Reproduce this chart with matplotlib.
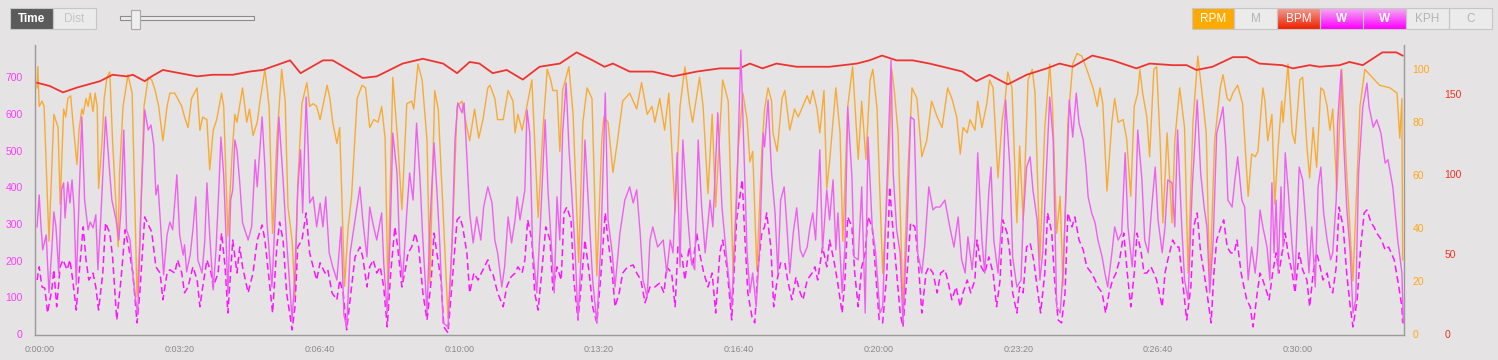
import numpy as np
import matplotlib
matplotlib.use("Agg")
import matplotlib.pyplot as plt
from matplotlib.patches import Rectangle
from matplotlib.ticker import FuncFormatter

plt.rcParams['font.family'] = ['Liberation Sans', 'DejaVu Sans']

# --- data (time in seconds) ---
rpm_t = [-4, -3, -1, 3, 6, 13, 20, 26, 29, 34, 37, 40, 44, 47, 53, 56, 60, 62, 66, 69, 72, 76, 79, 82, 84, 89, 92, 96, 100,
         104, 112, 114, 119, 122, 126, 132, 136, 139, 143, 149, 155, 160, 165, 170, 176, 182, 186, 193, 197, 203, 207, 212,
         217, 225, 229, 233, 239, 243, 248, 253, 260, 263, 269, 275, 279, 282, 290, 296, 300, 305, 311, 315, 322, 328, 333,
         339, 346, 351, 355, 361, 365, 369, 375, 382, 386, 391, 396, 401, 411, 415, 419, 425, 429, 436, 441, 446, 454, 461,
         466, 472, 478, 484, 489, 494, 498, 505, 512, 518, 525, 532, 535, 541, 547, 554, 558, 565, 570, 577, 584, 590, 597,
         604, 611, 615, 622, 628, 634, 641, 644, 651, 655, 663, 670, 677, 680, 684, 690, 694, 704, 708, 713, 720, 726, 731,
         734, 740, 744, 748, 757, 763, 771, 777, 783, 790, 797, 804, 807, 813, 820, 826, 834, 844, 849, 854, 861, 869, 876,
         880, 887, 894, 900, 909, 916, 923, 930, 934, 944, 949, 956, 962, 967, 977, 985, 992, 999, 1006, 1012, 1016, 1020,
         1026, 1033, 1037, 1042, 1047, 1049, 1055, 1062, 1066, 1073, 1080, 1085, 1090, 1098, 1102, 1106, 1112, 1116, 1122,
         1126, 1130, 1139, 1145, 1149, 1156, 1163, 1171, 1176, 1182, 1188, 1192, 1198, 1202, 1206, 1212, 1215, 1219, 1223,
         1228, 1235, 1242, 1248, 1255, 1262, 1269, 1276, 1284, 1291, 1299, 1305, 1312, 1317, 1321, 1327, 1331, 1338, 1342,
         1348, 1355, 1359, 1364, 1371, 1377, 1381, 1385, 1391, 1398, 1402, 1407, 1414, 1420, 1424, 1431, 1438, 1445, 1449,
         1455, 1460, 1464, 1471, 1478, 1484, 1491, 1498, 1507, 1513, 1517, 1521, 1527, 1534, 1538, 1543, 1550, 1555, 1561,
         1566, 1571, 1574, 1578, 1584, 1588, 1594, 1598, 1603, 1607, 1613, 1620, 1624, 1631, 1638, 1643, 1650, 1657, 1663,
         1669, 1674, 1681, 1689, 1693, 1699, 1703, 1707, 1714, 1721, 1729, 1734, 1739, 1743, 1750, 1753, 1757, 1763, 1767,
         1772, 1777, 1779, 1786, 1792, 1796, 1803, 1807, 1813, 1817, 1822, 1827, 1833, 1837, 1842, 1846, 1850, 1856, 1863,
         1870, 1879, 1889, 1896, 1903, 1917, 1932, 1942, 1946, 1949, 1950]
rpm_v = [93, 101, 86, 88, 86, 35, 83, 78, 49, 85, 82, 89, 90, 81, 64, 77, 85, 83, 89, 86, 91, 84, 91, 86, 55, 73, 89, 97, 99,
         73, 33, 61, 86, 91, 98, 91, 48, 14, 35, 86, 97, 96, 92, 86, 73, 86, 91, 91, 89, 86, 82, 78,
         89, 93, 77, 82, 81, 62, 77, 81, 91, 86, 37, 68, 83, 80, 93, 80, 85, 75, 80, 88, 100, 86, 38,
         73, 100, 88, 48, 35, 14, 57, 87, 95, 86, 87, 86, 81, 94, 89, 80, 72, 78, 18, 40, 52, 89, 94,
         93, 78, 81, 80, 86, 74, 17, 97, 73, 47, 87, 88, 85, 102, 96, 73, 19, 92, 85, 46, 6, 35, 86,
         88, 78, 73, 85, 74, 81, 93, 94, 89, 81, 81, 92, 88, 76, 83, 77, 82, 96, 73, 44, 78, 100, 96,
         92, 92, 69, 92, 101, 83, 27, 80, 93, 89, 22, 73, 82, 80, 61, 72, 88, 91, 88, 85, 95, 83, 86,
         80, 89, 77, 91, 46, 86, 101, 86, 80, 97, 86, 53, 83, 48, 96, 88, 23, 69, 91, 81, 65, 69,
         24, 69, 85, 93, 88, 76, 69, 89, 92, 77, 85, 82, 85, 90, 87, 92, 85, 76, 92,
         55, 65, 93, 76, 35, 86, 101, 66, 88, 66, 96, 100, 85, 53, 23, 51, 66, 100, 91,
         76, 10, 61, 93, 89, 67, 73, 88, 82, 78, 93, 89, 82, 68, 78, 76, 81, 77, 88,
         78, 87, 96, 93, 59, 81, 88, 99, 93, 42, 71, 43, 96, 100, 91, 28, 78, 102, 86,
         38, 52, 18, 80, 102, 106, 105, 100, 93, 86, 93, 87, 54, 80, 89, 80, 81, 74, 52,
         86, 91, 100, 91, 82, 67, 100, 101, 73, 42, 76, 42, 73, 93, 78, 23, 80, 105, 91,
         76, 18, 73, 93, 98, 89, 88, 91, 94, 87, 52, 68, 67, 69, 93, 88, 73, 83, 49,
         71, 88, 80, 102, 76, 72, 96, 97, 71, 59, 78, 63, 93, 92, 86, 77, 85, 54, 100,
         61, 20, 86, 100, 98, 94, 93, 91, 74, 89, 28]

bpm_t = [-4, 14, 33, 53, 86, 104, 124, 133, 150, 160, 176, 200, 225, 247, 276, 300, 319, 358, 373, 405, 419, 462, 482, 496,
         519, 548, 577, 597, 615, 629, 648, 668, 691, 715, 744, 768, 791, 808, 820, 844, 877, 906, 940, 973, 1001, 1016,
         1034, 1054, 1083, 1130, 1169, 1187, 1205, 1226, 1249, 1273, 1292, 1320, 1340, 1359, 1385, 1412, 1441, 1459, 1478,
         1506, 1535, 1569, 1588, 1621, 1641, 1655, 1678, 1707, 1727, 1745, 1778, 1793, 1817, 1831, 1860, 1874, 1893, 1921,
         1941, 1950]
bpm_v = [157, 155, 151, 154, 158, 162, 161, 162, 158, 161, 165, 163, 161, 162, 162, 164, 165, 171, 163, 171, 171, 160, 161, 164,
         169, 172, 169, 163, 170, 169, 163, 165, 159, 167, 169, 176, 171, 167, 169, 164, 164, 161, 164, 166, 166, 169,
         166, 169, 167, 167, 169, 171, 174, 171, 171, 169, 167, 164, 158, 162, 156, 162, 166, 169, 167,
         174, 171, 166, 169, 168, 168, 165, 167, 173, 173, 169, 168, 166, 168, 167, 168, 170, 168, 176,
         176, 174]

watts_t = [-4, -1, 1, 4, 9, 13, 17, 20, 23, 27, 31, 34, 36, 40, 43, 46, 49, 52, 56, 60, 64, 69, 72, 76, 80, 83, 87, 94, 99,
           103, 109, 113, 116, 120, 124, 129, 133, 137, 140, 145, 150, 155, 159, 163, 166, 169, 173, 177, 182, 186, 190,
           196, 200, 205, 207, 210, 215, 219, 223, 226, 232, 236, 239, 243, 248, 252, 256, 259, 263, 266, 269, 273, 276,
           279, 282, 286, 290, 298, 303, 308, 311, 318, 322, 325, 332, 336, 342, 348, 353, 361, 365, 369, 373, 376, 381,
           384, 386, 391, 396, 401, 405, 409, 414, 419, 425, 431, 435, 439, 444, 451, 458, 462, 468, 472, 477, 482, 489,
           492, 497, 501, 505, 511, 515, 519, 525, 529, 534, 539, 544, 548, 554, 558, 564, 568, 572, 577, 584, 590, 594,
           598, 604, 607, 611, 615, 620, 625, 631, 635, 641, 647, 651, 655, 661, 665, 670, 675, 680, 683, 687, 694, 697,
           701, 705, 711, 716, 723, 727, 733, 736, 740, 744, 748, 753, 757, 761, 766, 770, 776, 780, 784, 791, 797, 803,
           809, 813, 819, 823, 830, 837, 844, 849, 854, 859, 863, 869, 873, 877, 884, 892, 897, 902, 906, 912, 916, 920,
           926, 932, 937, 942, 947, 952, 959, 963, 970, 976, 983, 990, 997, 1003, 1007, 1012, 1016, 1020, 1025, 1030,
           1035, 1037, 1042, 1047, 1052, 1056, 1060, 1065, 1069, 1073, 1078, 1083, 1088, 1092, 1098, 1102, 1106, 1110,
           1116, 1120, 1126, 1130, 1135, 1139, 1142, 1148, 1152, 1156, 1162, 1165, 1171, 1176, 1181, 1185, 1191, 1196,
           1202, 1206, 1212, 1218, 1221, 1226, 1231, 1235, 1241, 1246, 1251, 1256, 1262, 1266, 1272, 1278, 1282, 1288,
           1295, 1302, 1308, 1314, 1319, 1324, 1328, 1334, 1338, 1342, 1348, 1352, 1358, 1361, 1365, 1371, 1377, 1382,
           1388, 1392, 1398, 1404, 1407, 1412, 1417, 1421, 1427, 1431, 1435, 1441, 1445, 1450, 1455, 1460, 1464, 1470,
           1473, 1478, 1483, 1487, 1493, 1497, 1500, 1505, 1510, 1514, 1520, 1524, 1528, 1534, 1538, 1543, 1548, 1553,
           1557, 1563, 1567, 1571, 1577, 1581, 1586, 1591, 1596, 1600, 1606, 1610, 1614, 1620, 1624, 1628, 1634, 1638,
           1643, 1649, 1653, 1656, 1661, 1666, 1670, 1674, 1679, 1684, 1689, 1693, 1697, 1700, 1706, 1710, 1714, 1720,
           1724, 1729, 1734, 1739, 1742, 1746, 1750, 1756, 1760, 1763, 1766, 1769, 1772, 1776, 1779, 1782, 1786, 1792,
           1796, 1802, 1807, 1812, 1816, 1820, 1825, 1829, 1833, 1837, 1842, 1847, 1850, 1855, 1857, 1862, 1866, 1870,
           1875, 1879, 1883, 1887, 1893, 1899, 1902, 1908, 1913, 1919, 1925, 1929, 1936, 1943, 1949, 1951]
watts_v = [292, 379, 311, 229, 270, 112, 229, 333, 292, 166, 393, 412, 316, 414, 357, 420, 338, 134, 365, 592, 365, 284, 305,
           289, 325, 175, 311, 592, 461, 365, 311, 256, 338, 556, 284, 256, 161, 93, 52, 365, 611, 556, 570, 515, 379, 406,
           289, 161, 270, 305, 284, 434, 270, 215, 243, 169, 215, 284, 374, 202, 166, 256, 412, 270, 120, 229, 393, 537,
           434, 284, 106, 365, 393, 529, 502, 412, 303, 256, 292, 475, 401, 592, 455, 303, 128, 292, 592, 420, 256, 38,
           166, 393, 502, 330, 646, 502, 357, 374, 292, 357, 292, 374, 221, 183, 147, 292, 52, 19, 221, 311, 401, 311,
           210, 346, 297, 256, 330, 194, 57, 256, 548, 439, 221, 147, 330, 439, 365, 575, 420, 256, 57, 292, 521, 393,
           256, 30, 19, 256, 529, 630, 603, 630, 483, 330, 248, 319, 256, 346, 401, 357, 256, 221, 128, 183, 319, 248,
           311, 374, 311, 393, 611, 548, 237, 112, 292, 584, 393, 210, 112, 374, 256, 548, 684, 510, 385, 221, 38, 275,
           529, 385, 147, 30, 256, 657, 311, 221, 128, 275, 365, 401, 357, 393, 275, 147, 101, 256, 292, 237, 256, 166,
           256, 221, 494, 183, 529, 346, 202, 175, 529, 346, 221, 365, 292, 603, 346, 202, 74, 365, 774, 529, 221, 112,
           166, 74, 237, 548, 510, 638, 439, 330, 166, 365, 401, 292, 166, 275, 344, 229, 210, 237, 292, 330, 256, 502,
           229, 393, 311, 420, 229, 330, 112, 237, 619, 428, 210, 202, 401, 57, 537, 292, 221, 57, 74, 401, 747, 439,
           284, 221, 30, 292, 592, 584, 221, 166, 237, 401, 338, 346, 346, 365, 292, 237, 319, 202, 166, 265, 175, 256,
           494, 256, 166, 393, 455, 256, 166, 330, 638, 455, 210, 128, 147, 311, 455, 483, 393, 311, 147, 221, 475, 646,
           529, 74, 57, 166, 466, 638, 537, 657, 575, 529, 455, 374, 330, 303, 256, 210, 166, 128, 221, 292, 256, 275,
           494, 292, 183, 292, 556, 420, 256, 221, 346, 455, 311, 221, 292, 420, 412, 292, 556, 292, 147, 93, 401, 529,
           638, 439, 346, 292, 112, 256, 548, 584, 619, 510, 365, 346, 420, 483, 365, 346, 147, 237, 166, 221, 338, 292,
           237, 147, 412, 221, 365, 166, 401, 237, 494, 401, 237, 147, 455, 420, 292, 166, 292, 128, 401, 455, 330, 256,
           202, 221, 365, 575, 720, 510, 346, 221, 57, 93, 439, 619, 684, 619, 564, 584, 548, 466, 475, 401, 256, 166, 30]

watts2_t = [-4, -1, 3, 7, 11, 17, 20, 24, 29, 33, 39, 43, 47, 52, 57, 62, 66, 70, 76, 80, 84, 90, 94, 100, 104, 110, 116,
            122, 127, 133, 139, 143, 150, 160, 166, 172, 176, 182, 186, 193, 197, 203, 207, 212, 219, 225, 229, 233, 239,
            245, 248, 255, 260, 265, 269, 276, 282, 286, 290, 298, 300, 305, 311, 318, 322, 326, 333, 339, 343, 348, 353,
            361, 365, 369, 375, 381, 386, 391, 396, 401, 408, 412, 418, 425, 429, 434, 439, 445, 451, 458, 462, 468, 472,
            477, 482, 487, 492, 497, 502, 508, 512, 518, 522, 527, 532, 537, 542, 548, 554, 560, 564, 568, 574, 578, 584,
            591, 597, 601, 605, 611, 615, 621, 627, 634, 641, 644, 648, 655, 663, 668, 674, 680, 684, 690, 694, 698, 704,
            708, 713, 718, 724, 730, 734, 740, 746, 750, 754, 760, 764, 770, 776, 780, 786, 791, 797, 803, 809, 813, 819,
            823, 829, 834, 841, 849, 854, 860, 866, 873, 880, 887, 893, 897, 904, 909, 913, 919, 923, 929, 934, 940, 944,
            950, 956, 962, 967, 973, 977, 983, 990, 997, 1005, 1009, 1013, 1019, 1023, 1027, 1033, 1037, 1040, 1046,
            1050, 1055, 1060, 1066, 1070, 1076, 1082, 1088, 1092, 1098, 1105, 1109, 1113, 1120, 1126, 1130, 1136, 1141,
            1148, 1152, 1156, 1162, 1166, 1171, 1176, 1181, 1185, 1191, 1196, 1201, 1206, 1212, 1216, 1221, 1226, 1231,
            1235, 1241, 1246, 1252, 1256, 1262, 1268, 1272, 1278, 1284, 1289, 1295, 1299, 1305, 1311, 1317, 1321, 1327,
            1332, 1338, 1341, 1347, 1352, 1358, 1364, 1369, 1374, 1378, 1384, 1388, 1392, 1398, 1402, 1407, 1412, 1417,
            1422, 1427, 1432, 1438, 1442, 1448, 1452, 1457, 1462, 1467, 1471, 1477, 1481, 1487, 1493, 1498, 1505, 1510,
            1514, 1520, 1525, 1530, 1535, 1540, 1545, 1551, 1556, 1561, 1566, 1570, 1576, 1580, 1584, 1590, 1594, 1598,
            1606, 1610, 1614, 1621, 1626, 1630, 1636, 1641, 1647, 1651, 1656, 1661, 1666, 1670, 1676, 1680, 1684, 1690,
            1694, 1699, 1704, 1709, 1713, 1719, 1723, 1727, 1732, 1736, 1742, 1746, 1750, 1756, 1759, 1764, 1769, 1773,
            1779, 1782, 1786, 1792, 1796, 1802, 1807, 1813, 1817, 1822, 1827, 1832, 1836, 1842, 1846, 1850, 1855, 1859,
            1865, 1870, 1875, 1879, 1885, 1890, 1895, 1899, 1905, 1909, 1913, 1920, 1925, 1930, 1938, 1943, 1949, 1950]
watts2_v = [147, 183, 128, 125, 57, 120, 175, 74, 183, 202, 175, 202, 147, 65, 183, 292, 202, 147, 166, 128, 65, 166, 303,
            275, 210, 38, 147, 284, 237, 166, 30, 112, 319, 278, 183, 166, 93, 166, 175, 166, 202, 166, 112, 128, 183, 147,
            74, 128, 202, 166, 128, 166, 275, 183, 57, 256, 166, 237, 183, 112, 128, 166, 256, 297, 256, 183, 57, 237, 305,
            256, 112, 11, 74, 237, 256, 330, 221, 183, 147, 194, 166, 175, 112, 93, 147, 112, 11, 112, 210, 237, 210, 128,
            183, 202, 166, 183, 128, 19, 166, 292, 237, 128, 166, 221, 237, 275, 237, 112, 38, 147, 275, 221, 147, 19, 3,
            166, 311, 319, 292, 221, 112, 166, 147, 175, 202, 175, 166, 112, 74, 128, 155, 166, 183, 166, 202, 311, 256,
            112, 65, 166, 292, 256, 120, 183, 147, 330, 346, 311, 147, 38, 166, 256, 166, 74, 30, 166, 330, 256, 166, 74,
            112, 166, 183, 188, 166, 147, 85, 128, 128, 139, 112, 183, 166, 74, 237, 210, 147, 237, 183, 275, 221,
            166, 128, 166, 57, 221, 256, 183, 38, 311, 420, 256, 112, 46, 30, 166, 275, 292, 330, 237,
            74, 147, 194, 194, 147, 93, 155, 112, 93, 147, 166, 183, 147, 237, 183, 256, 202, 147,
            57, 147, 319, 292, 166, 74, 183, 221, 319, 292, 166, 38, 30, 166, 401, 275, 166, 57,
            19, 166, 303, 292, 221, 57, 166, 183, 166, 112, 166, 175, 147, 93, 128, 74, 112, 147,
            112, 147, 256, 183, 166, 210, 166, 74, 147, 311, 275, 221, 112, 57, 128, 112, 237, 248,
            202, 128, 57, 166, 330, 275, 147, 38, 30, 112, 330, 292, 319, 256, 229, 183, 166, 147,
            128, 112, 57, 112, 147, 166, 202, 275, 166, 74, 166, 275, 221, 166, 166, 183, 166, 147,
            74, 166, 202, 256, 237, 237, 128, 38, 128, 292, 330, 221, 166, 112, 30, 166, 256, 292,
            311, 237, 221, 221, 256, 166, 128, 93, 74, 19, 112, 166, 147, 112, 93, 166, 221, 166,
            237, 275, 221, 166, 112, 221, 175, 147, 74, 166, 221, 183, 147, 166, 128, 112, 183, 346,
            292, 166, 74, 19, 93, 237, 330, 338, 303, 292, 275, 256, 229, 237, 202, 147, 74, 30]

x_ticks = list(range(0, 1801, 200))

# --- figure ---
W, H = 1498, 360
bg = '#e5e3e3'
fig = plt.figure(figsize=(W / 100, H / 100), dpi=100, facecolor=bg)
rect = [35 / W, 1 - 335 / H, (1404 - 35) / W, (335 - 45) / H]
ax = fig.add_axes(rect)
ax_rpm = ax.twinx()
ax_bpm = ax.twinx()

ax_rpm.plot(rpm_t, rpm_v, color='#f9a82a', lw=1.0, alpha=0.95, solid_joinstyle='round')
ax_bpm.plot(bpm_t, bpm_v, color='#ee3430', lw=1.3, solid_joinstyle='round')
ax.plot(watts2_t, watts2_v, color='#ff14ff', lw=1.1, ls=(0, (4.5, 2.5)))
ax.plot(watts_t, watts_v, color='#f060f0', lw=1.0, solid_joinstyle='round')

ax.set_zorder(3)
ax_bpm.set_zorder(2)
ax_rpm.set_zorder(1)
for a in (ax, ax_rpm, ax_bpm):
    a.patch.set_visible(False)
    a.set_xlim(-7, 1952)
    for s in a.spines.values():
        s.set_visible(False)

ax.set_ylim(-3, 788)
ax_rpm.set_ylim(-0.4, 109.2)
ax_bpm.set_ylim(-0.6, 180.6)

ax.spines['left'].set_visible(True)
ax.spines['bottom'].set_visible(True)
ax_rpm.spines['right'].set_visible(True)
for s in (ax.spines['left'], ax.spines['bottom'], ax_rpm.spines['right']):
    s.set_color('#9a9a9a')
    s.set_linewidth(1.0)


def hms(v, pos):
    v = int(v)
    return "%d:%02d:%02d" % (v // 3600, (v % 3600) // 60, v % 60)


ax.set_xticks(x_ticks)
ax.xaxis.set_major_formatter(FuncFormatter(hms))
ax.tick_params(axis='x', length=0, pad=7, labelsize=6.5, labelcolor='#8a8a8a')
ax.set_yticks(range(0, 701, 100))
ax.tick_params(axis='y', length=0, pad=9, labelsize=7.5, labelcolor='#ff3cff')
ax_rpm.set_yticks(range(0, 101, 20))
ax_rpm.tick_params(axis='y', length=0, pad=6, labelsize=7.5, labelcolor='#ffa81c')
ax_bpm.set_yticks([0, 50, 100, 150])
ax_bpm.tick_params(axis='y', length=0, pad=29, labelsize=7.5, labelcolor='#ee3322')

# --- toolbar controls ---
ui = fig.add_axes([0, 0, 1, 1], zorder=0)
ui.set_xlim(0, W)
ui.set_ylim(H, 0)
ui.axis('off')


def button(x0, x1, label, face, tc, top=None, bold=False):
    if top is not None:
        c0 = np.array(matplotlib.colors.to_rgb(top))
        c1 = np.array(matplotlib.colors.to_rgb(face))
        g = np.linspace(0, 1, 20)[:, None, None]
        img = c0 * (1 - g) + c1 * g
        ui.imshow(img, extent=(x0, x1, 29, 8), aspect='auto', origin='upper', zorder=1)
    else:
        ui.add_patch(Rectangle((x0, 8), x1 - x0, 21, facecolor=face, edgecolor='none', zorder=1))
    ui.add_patch(Rectangle((x0, 8), x1 - x0, 21, facecolor='none', edgecolor='#c6c6c6', lw=0.8, zorder=2))
    ui.text((x0 + x1) / 2, 19, label, color=tc, fontsize=8.5, ha='center', va='center',
            fontweight='bold' if bold else 'normal', zorder=3)


button(10, 53, 'Time', '#5b5b5b', 'white', bold=True)
button(53, 96, 'Dist', '#ebebeb', '#c4c4c4')
ui.add_patch(Rectangle((120, 15.5), 134, 4.5, facecolor='#ececec', edgecolor='#8c8c8c', lw=0.8))
ui.add_patch(Rectangle((131, 9.5), 9, 19, facecolor='#eeeeee', edgecolor='#a8a8a8', lw=0.8, zorder=3))

button(1192, 1234, 'RPM', '#ffaa00', 'white')
button(1234, 1277, 'M', '#ebebeb', '#b4b4b4')
button(1277, 1320, 'BPM', '#ee2200', 'white', top='#f49c92')
button(1320, 1363, 'W', '#ff00ff', 'white', top='#f2aef2', bold=True)
button(1363, 1406, 'W', '#ff00ff', 'white', top='#f2aef2', bold=True)
button(1406, 1449, 'KPH', '#ebebeb', '#b4b4b4')
button(1449, 1492, 'C', '#ebebeb', '#b4b4b4')
ui.set_xlim(0, W)
ui.set_ylim(H, 0)

fig.savefig('out.png', dpi=100, facecolor=bg)
